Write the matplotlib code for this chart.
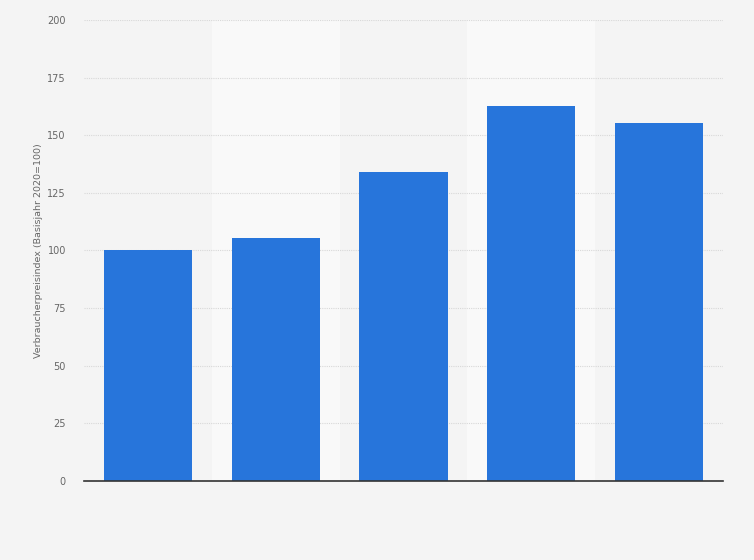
import matplotlib.pyplot as plt

# Categories are not labelled in the picture; base year 2020 = 100
categories = ["2020", "2021", "2022", "2023", "2024"]
values = [100.0, 105.4, 134.1, 162.6, 155.3]
y_ticks = [0, 25, 50, 75, 100, 125, 150, 175, 200]

BG = "#f4f4f4"
BAND = "#f9f9f9"
BAR = "#2775db"

fig = plt.figure(figsize=(7.54, 5.6), dpi=100, facecolor=BG)
ax = fig.add_axes([0.1114, 0.1411, 0.8475, 0.8232])
ax.set_facecolor(BG)

x = range(len(categories))

# alternating light column bands
for i in x:
    if i % 2 == 1:
        ax.axvspan(i - 0.5, i + 0.5, color=BAND, zorder=0, lw=0)

ax.bar(x, values, width=0.69, color=BAR, zorder=3)

ax.set_xlim(-0.5, len(categories) - 0.5)
ax.set_ylim(0, 200)
ax.set_yticks(y_ticks)
ax.set_yticklabels([str(t) for t in y_ticks], fontsize=7, color="#666666")
ax.set_xticks(list(x))
ax.set_xticklabels([])
ax.tick_params(axis="both", length=0)
ax.tick_params(axis="y", pad=13)

ax.grid(axis="y", color="#d8d8d8", linestyle=(0, (1, 1)), lw=0.8, zorder=1)
ax.grid(axis="x", visible=False)

for side in ["top", "right", "left"]:
    ax.spines[side].set_visible(False)
ax.spines["bottom"].set_color("#333333")
ax.spines["bottom"].set_linewidth(1.2)
ax.spines["bottom"].set_zorder(4)

ax.set_ylabel("Verbraucherpreisindex (Basisjahr 2020=100)", fontsize=6.8,
              color="#666666", labelpad=3)

fig.savefig("out.png", dpi=100, facecolor=BG)
